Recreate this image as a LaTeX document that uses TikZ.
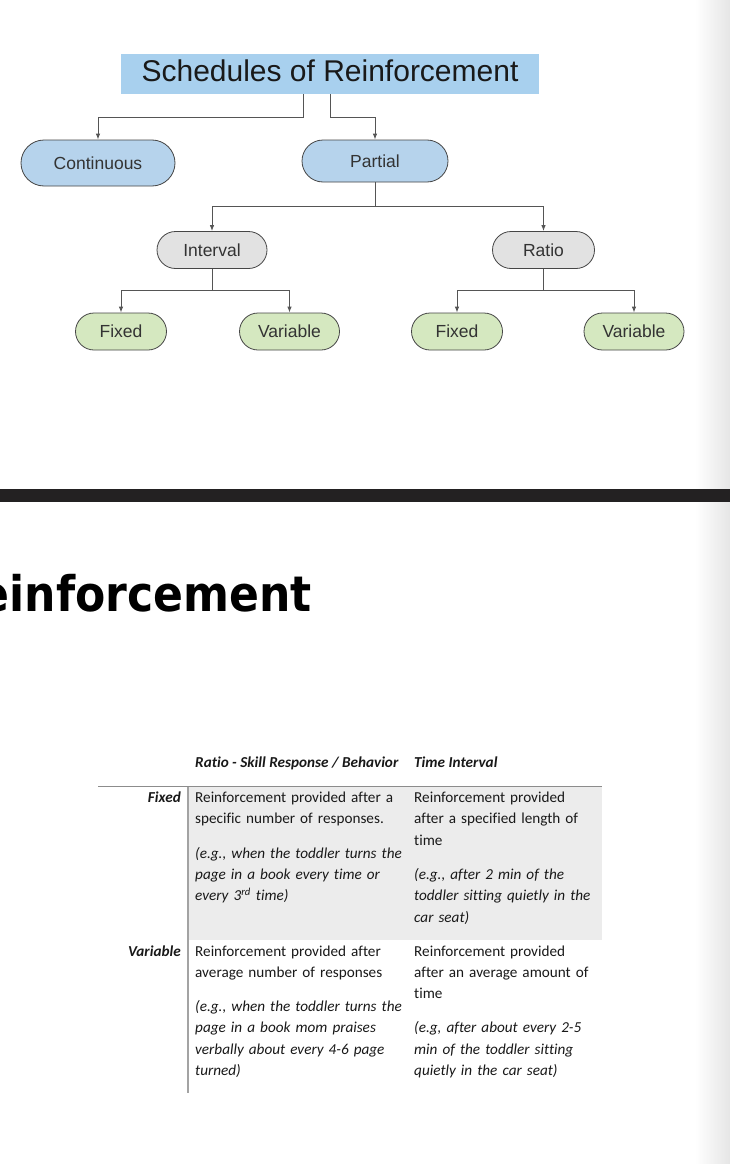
\documentclass[tikz,border=0pt]{standalone}
\usepackage{fontspec}
\setmainfont{Liberation Sans}
\newfontfamily\tabfont{Carlito}[Ligatures=CommonOff]
\newfontfamily\headfont{DejaVu Sans Condensed}
\usetikzlibrary{arrows.meta,shapes.misc}

\definecolor{titleblue}{RGB}{168,208,238}
\definecolor{pillblue}{RGB}{182,211,236}
\definecolor{pillgray}{RGB}{226,226,226}
\definecolor{pillgreen}{RGB}{213,232,192}
\definecolor{edgegray}{RGB}{70,70,70}
\definecolor{linegray}{RGB}{85,85,85}
\definecolor{bardark}{RGB}{35,33,34}
\definecolor{rowshade}{RGB}{236,236,236}
\definecolor{rulegray}{RGB}{140,140,140}

\begin{document}
\begin{tikzpicture}[
    x=1pt, y=-1pt,
    conn/.style={-{Latex[length=6pt,width=4.5pt]}, draw=linegray, line width=0.9pt},
    pill/.style={rounded rectangle, draw=edgegray, line width=0.8pt, inner sep=0pt,
        minimum height=37pt, text=black!80, font=\fontsize{17.5}{20}\selectfont},
    cell/.style={anchor=base west, inner sep=0pt, align=left, text=black!90,
        font=\tabfont\fontsize{15.2}{21.3}\selectfont},
    headcell/.style={cell, font=\tabfont\bfseries\itshape\fontsize{15.2}{21.3}\selectfont},
    rowlabel/.style={anchor=base east, inner sep=0pt, text=black!90,
        font=\tabfont\bfseries\itshape\fontsize{15.2}{21.3}\selectfont}
]

% Page and background
\useasboundingbox (0,0) rectangle (730,1164);
\clip (0,0) rectangle (730,1164);
\fill[white] (0,0) rectangle (730,1164);
\shade[left color=white, right color=black!10] (695,0) rectangle (730,1164);

% Divider bar
\fill[bardark] (0,489) rectangle (730,502);

% Title box
\node[fill=titleblue, minimum width=418pt, minimum height=40pt, inner sep=0pt,
    text depth=7pt, text=black!90, font=\fontsize{30}{35}\selectfont]
    (title) at (330,74) {Schedules of Reinforcement};

% Tree nodes
\node[pill, fill=pillblue, minimum width=154pt, minimum height=46pt] (cont) at (98,163) {Continuous};
\node[pill, fill=pillblue, minimum width=146pt, minimum height=42pt] (part) at (375,161) {Partial};
\node[pill, fill=pillgray, minimum width=110pt] (intv) at (212,250) {Interval};
\node[pill, fill=pillgray, minimum width=102pt] (ratio) at (543.5,250) {Ratio};
\node[pill, fill=pillgreen, minimum width=91pt] (ifix) at (121,331.5) {Fixed};
\node[pill, fill=pillgreen, minimum width=100pt] (ivar) at (289.5,331.5) {Variable};
\node[pill, fill=pillgreen, minimum width=91pt] (rfix) at (457,331.5) {Fixed};
\node[pill, fill=pillgreen, minimum width=100pt] (rvar) at (634,331.5) {Variable};

% Connectors
\draw[conn] ([xshift=-27pt]title.south) -- ++(0,23) -| (cont.north);
\draw[conn] (title.south) -- ++(0,23) -| (part.north);
\draw[conn] (part.south) -- ++(0,24) -| (intv.north);
\draw[conn] (part.south) -- ++(0,24) -| (ratio.north);
\draw[conn] (intv.south) -- ++(0,22) -| (ifix.north);
\draw[conn] (intv.south) -- ++(0,22) -| (ivar.north);
\draw[conn] (ratio.south) -- ++(0,22) -| (rfix.north);
\draw[conn] (ratio.south) -- ++(0,22) -| (rvar.north);

% Heading, cut at the left edge
\node[anchor=base east, inner sep=0pt, font=\headfont\bfseries\fontsize{49}{55}\selectfont]
    (heading) at (312,611.5) {einforcement};

% Table
\fill[rowshade] (188,787) rectangle (602,940);
\draw[rulegray, line width=1.6pt] (98,786.5) -- (602,786.5);
\draw[rulegray!80, line width=1.3pt] (188,787) -- (188,1093);

\node[headcell] (hratio) at (195,767) {Ratio - Skill Response / Behavior};
\node[headcell] (htime) at (414,767) {Time Interval};

\node[rowlabel] (lfixed) at (181,802.5) {Fixed};
\node[rowlabel] (lvar) at (181,956) {Variable};

\node[cell, text width=215pt] (fixratio) at (195,802.5)
    {Reinforcement provided after a\\specific number of responses.\\[13pt]
     \itshape (e.g., when the toddler turns the\\page in a book every time or\\every 3\textsuperscript{rd} time)};
\node[cell, text width=185pt] (fixtime) at (414,802.5)
    {Reinforcement provided\\after a specified length of\\time\\[13pt]
     \itshape (e.g., after 2 min of the\\toddler sitting quietly in the\\car seat)};
\node[cell, text width=215pt] (varratio) at (195,956)
    {Reinforcement provided after\\average number of responses\\[13pt]
     \itshape (e.g., when the toddler turns the\\page in a book mom praises\\verbally about every 4-6 page\\turned)};
\node[cell, text width=185pt] (vartime) at (414,956)
    {Reinforcement provided\\after an average amount of\\time\\[13pt]
     \itshape (e.g, after about every 2-5\\min of the toddler sitting\\quietly in the car seat)};

\end{tikzpicture}
\end{document}
